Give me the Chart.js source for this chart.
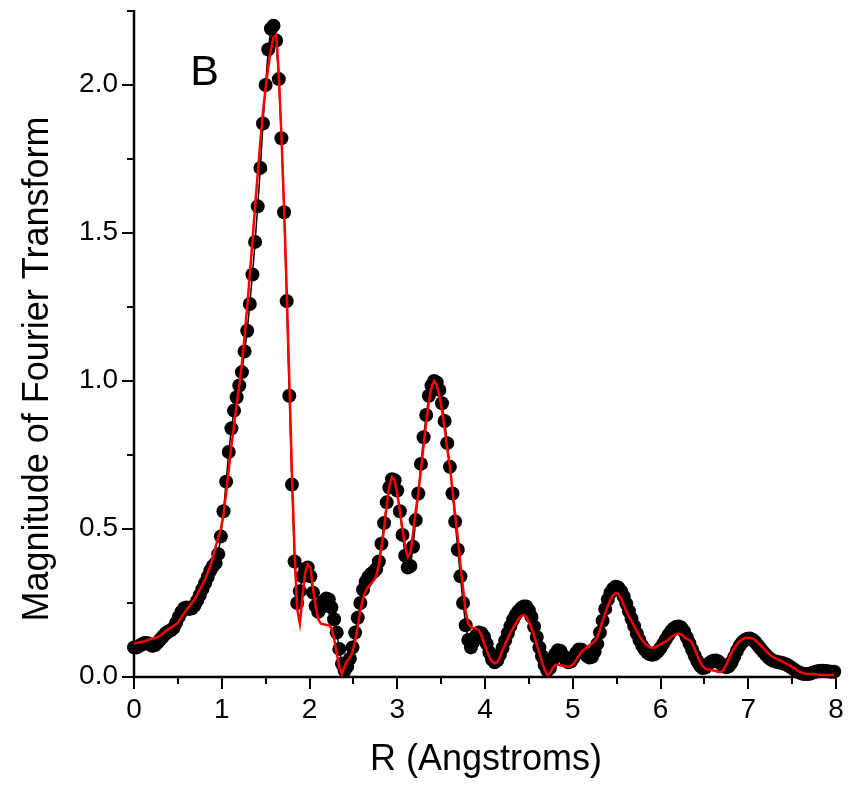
<!DOCTYPE html>
<html>
<head>
<meta charset="utf-8">
<script src="https://cdn.jsdelivr.net/npm/chart.js@4/dist/chart.umd.min.js"></script>
<style>
  html, body { margin: 0; padding: 0; background: #ffffff; }
  #wrap { width: 854px; height: 785px; }
</style>
</head>
<body>
<div id="wrap"><canvas id="ft"></canvas></div>
<script>
// Radial grid spacing (Angstroms) shared by both series
const R_STEP = 0.03;

// |FT| of the measured EXAFS (black dots), one value per grid point from R = 0
const dataMag = [
  0.100, 0.100, 0.105, 0.110, 0.115, 0.115, 0.110, 0.105, 0.108, 0.117,
  0.127, 0.137, 0.147, 0.153, 0.158, 0.165, 0.183, 0.203, 0.220, 0.232,
  0.235, 0.230, 0.232, 0.242, 0.258, 0.277, 0.297, 0.317, 0.338, 0.360,
  0.375, 0.385, 0.415, 0.475, 0.560, 0.660, 0.760, 0.840, 0.900, 0.945,
  0.985, 1.030, 1.100, 1.170, 1.260, 1.360, 1.470, 1.590, 1.720, 1.870,
  2.000, 2.120, 2.190, 2.200, 2.150, 2.020, 1.820, 1.570, 1.270, 0.950,
  0.650, 0.390, 0.250, 0.290, 0.340, 0.365, 0.370, 0.340, 0.285, 0.240,
  0.220, 0.235, 0.255, 0.265, 0.262, 0.235, 0.195, 0.150, 0.095, 0.045,
  0.022, 0.035, 0.062, 0.100, 0.150, 0.200, 0.250, 0.295, 0.322, 0.338,
  0.348, 0.355, 0.365, 0.390, 0.450, 0.520, 0.590, 0.640, 0.668, 0.665,
  0.630, 0.560, 0.480, 0.410, 0.370, 0.375, 0.440, 0.530, 0.620, 0.720,
  0.810, 0.885, 0.950, 0.985, 1.000, 0.995, 0.970, 0.925, 0.865, 0.790,
  0.710, 0.620, 0.525, 0.430, 0.340, 0.250, 0.175, 0.125, 0.100, 0.120,
  0.140, 0.150, 0.148, 0.135, 0.112, 0.083, 0.060, 0.050, 0.056, 0.075,
  0.098, 0.123, 0.148, 0.172, 0.194, 0.210, 0.222, 0.232, 0.238, 0.238,
  0.225, 0.203, 0.170, 0.135, 0.100, 0.070, 0.040, 0.022, 0.030, 0.055,
  0.077, 0.090, 0.088, 0.073, 0.058, 0.050, 0.053, 0.066, 0.082, 0.093,
  0.092, 0.082, 0.072, 0.066, 0.068, 0.085, 0.112, 0.150, 0.190, 0.230,
  0.262, 0.285, 0.298, 0.305, 0.302, 0.290, 0.272, 0.248, 0.222, 0.197,
  0.172, 0.147, 0.125, 0.106, 0.093, 0.083, 0.077, 0.075, 0.078, 0.087,
  0.098, 0.112, 0.127, 0.142, 0.154, 0.164, 0.170, 0.171, 0.166, 0.153,
  0.134, 0.113, 0.092, 0.072, 0.053, 0.038, 0.030, 0.032, 0.042, 0.050,
  0.055, 0.056, 0.052, 0.044, 0.036, 0.033, 0.037, 0.050, 0.068, 0.088,
  0.105, 0.117, 0.125, 0.129, 0.130, 0.126, 0.118, 0.107, 0.096, 0.085,
  0.075, 0.066, 0.059, 0.054, 0.051, 0.050, 0.048, 0.045, 0.041, 0.036,
  0.030, 0.024, 0.018, 0.014, 0.011, 0.010, 0.010, 0.012, 0.015, 0.018,
  0.020, 0.021, 0.021, 0.020, 0.019, 0.018, 0.018
];

// |FT| of the fitted model (red line), same grid
const fitMag = [
  0.113, 0.115, 0.117, 0.119, 0.121, 0.124, 0.127, 0.130, 0.132, 0.135,
  0.140, 0.147, 0.155, 0.161, 0.167, 0.172, 0.178, 0.188, 0.202, 0.215,
  0.228, 0.238, 0.250, 0.262, 0.278, 0.296, 0.312, 0.330, 0.352, 0.375,
  0.405, 0.440, 0.470, 0.500, 0.550, 0.620, 0.700, 0.780, 0.850, 0.920,
  0.985, 1.060, 1.150, 1.250, 1.360, 1.470, 1.590, 1.700, 1.810, 1.910,
  1.990, 2.060, 2.120, 2.160, 2.170, 2.040, 1.830, 1.590, 1.310, 1.000,
  0.690, 0.420, 0.230, 0.180, 0.270, 0.350, 0.380, 0.370, 0.300, 0.240,
  0.195, 0.180, 0.178, 0.176, 0.176, 0.165, 0.130, 0.080, 0.035, 0.010,
  0.035, 0.055, 0.065, 0.085, 0.120, 0.170, 0.225, 0.265, 0.290, 0.305,
  0.315, 0.325, 0.340, 0.380, 0.440, 0.500, 0.580, 0.645, 0.675, 0.665,
  0.620, 0.560, 0.500, 0.440, 0.405, 0.420, 0.485, 0.560, 0.620, 0.700,
  0.780, 0.860, 0.930, 0.980, 1.000, 0.985, 0.950, 0.900, 0.840, 0.770,
  0.710, 0.630, 0.550, 0.470, 0.380, 0.300, 0.220, 0.180, 0.168, 0.165,
  0.163, 0.158, 0.140, 0.115, 0.090, 0.068, 0.052, 0.046, 0.050, 0.068,
  0.090, 0.110, 0.130, 0.150, 0.165, 0.180, 0.195, 0.205, 0.210, 0.205,
  0.185, 0.165, 0.140, 0.110, 0.080, 0.050, 0.025, 0.007, 0.012, 0.030,
  0.040, 0.042, 0.040, 0.038, 0.036, 0.035, 0.037, 0.045, 0.058, 0.072,
  0.085, 0.093, 0.100, 0.107, 0.113, 0.120, 0.135, 0.160, 0.190, 0.215,
  0.240, 0.262, 0.277, 0.283, 0.280, 0.265, 0.245, 0.222, 0.205, 0.190,
  0.172, 0.155, 0.138, 0.125, 0.114, 0.106, 0.100, 0.099, 0.101, 0.105,
  0.110, 0.115, 0.120, 0.127, 0.134, 0.140, 0.145, 0.147, 0.143, 0.135,
  0.128, 0.125, 0.115, 0.095, 0.072, 0.052, 0.037, 0.028, 0.025, 0.024,
  0.022, 0.020, 0.017, 0.017, 0.025, 0.042, 0.062, 0.082, 0.097, 0.110,
  0.120, 0.127, 0.131, 0.133, 0.133, 0.130, 0.124, 0.116, 0.107, 0.098,
  0.089, 0.080, 0.072, 0.066, 0.062, 0.058, 0.054, 0.049, 0.044, 0.039,
  0.034, 0.028, 0.022, 0.017, 0.013, 0.011, 0.010, 0.010, 0.010, 0.009,
  0.008, 0.007, 0.007, 0.007, 0.007, 0.007, 0.007
];

// Axis ticks and labels
const xMajor = [0, 1, 2, 3, 4, 5, 6, 7, 8];
const xMinor = [0.5, 1.5, 2.5, 3.5, 4.5, 5.5, 6.5, 7.5];
const yMajor = [0, 0.5, 1.0, 1.5, 2.0];
const yMinor = [0.25, 0.75, 1.25, 1.75, 2.25];
const yTickLabels = ['0.0', '0.5', '1.0', '1.5', '2.0'];
const xTitle = 'R (Angstroms)';
const yTitle = 'Magnitude of Fourier Transform';
const panelLabel = 'B';

const FONT = '"Liberation Sans", Arial, Helvetica, sans-serif';

function toPoints(values) {
  return values.map((v, i) => ({ x: +(i * R_STEP).toFixed(4), y: v }));
}

// Axes, tick marks, labels and titles drawn through the chart scales
const axesPlugin = {
  id: 'originAxes',
  beforeDatasetsDraw(chart) {
    const { ctx, chartArea: a, scales: { x, y } } = chart;
    ctx.save();
    ctx.strokeStyle = '#000';
    ctx.lineCap = 'butt';
    ctx.lineWidth = 2.5;
    ctx.beginPath();
    ctx.moveTo(a.left, y.getPixelForValue(2.25) - 1);
    ctx.lineTo(a.left, a.bottom);
    ctx.lineTo(x.getPixelForValue(8) + 1, a.bottom);
    ctx.stroke();

    ctx.lineWidth = 2;
    ctx.beginPath();
    yMajor.forEach(v => { const p = Math.round(y.getPixelForValue(v)); ctx.moveTo(a.left, p); ctx.lineTo(a.left - 12, p); });
    yMinor.forEach(v => { const p = Math.round(y.getPixelForValue(v)); ctx.moveTo(a.left, p); ctx.lineTo(a.left - 7, p); });
    xMajor.forEach(v => { const p = Math.round(x.getPixelForValue(v)); ctx.moveTo(p, a.bottom); ctx.lineTo(p, a.bottom + 12); });
    xMinor.forEach(v => { const p = Math.round(x.getPixelForValue(v)); ctx.moveTo(p, a.bottom); ctx.lineTo(p, a.bottom + 7); });
    ctx.stroke();

    ctx.fillStyle = '#000';
    ctx.font = '28px ' + FONT;
    ctx.textAlign = 'right';
    ctx.textBaseline = 'alphabetic';
    yMajor.forEach((v, i) => ctx.fillText(yTickLabels[i], a.left - 16, y.getPixelForValue(v) + 7));
    ctx.textAlign = 'center';
    xMajor.forEach(v => ctx.fillText(String(v), x.getPixelForValue(v), a.bottom + 41));

    ctx.font = '36px ' + FONT;
    ctx.fillText(xTitle, (a.left + a.right) / 2 + 1, 770);
    ctx.save();
    ctx.translate(48, (a.top + a.bottom) / 2 + 25);
    ctx.rotate(-Math.PI / 2);
    ctx.fillText(yTitle, 0, 0);
    ctx.restore();

    ctx.font = '43px ' + FONT;
    ctx.textAlign = 'left';
    ctx.fillText(panelLabel, x.getPixelForValue(0.64), y.getPixelForValue(2.0));
    ctx.restore();
  }
};

new Chart(document.getElementById('ft'), {
  type: 'scatter',
  data: {
    datasets: [
      {
        label: 'data',
        data: toPoints(dataMag),
        showLine: true,
        borderColor: '#000',
        borderWidth: 1.5,
        pointRadius: 7,
        pointBackgroundColor: '#000',
        pointBorderWidth: 0,
        pointBorderColor: '#000',
        clip: false,
        order: 2
      },
      {
        label: 'fit',
        data: toPoints(fitMag),
        showLine: true,
        borderColor: '#ff0000',
        borderWidth: 2.5,
        pointRadius: 0,
        tension: 0,
        clip: false,
        order: 1
      }
    ]
  },
  options: {
    responsive: true,
    maintainAspectRatio: false,
    animation: false,
    devicePixelRatio: 1,
    layout: { padding: { left: 134, right: 18, top: 11, bottom: 108 } },
    plugins: { legend: { display: false }, tooltip: { enabled: false } },
    scales: {
      x: { type: 'linear', min: 0, max: 8, display: false },
      y: { type: 'linear', min: 0, max: 2.25, display: false }
    }
  },
  plugins: [axesPlugin]
});
</script>
</body>
</html>
